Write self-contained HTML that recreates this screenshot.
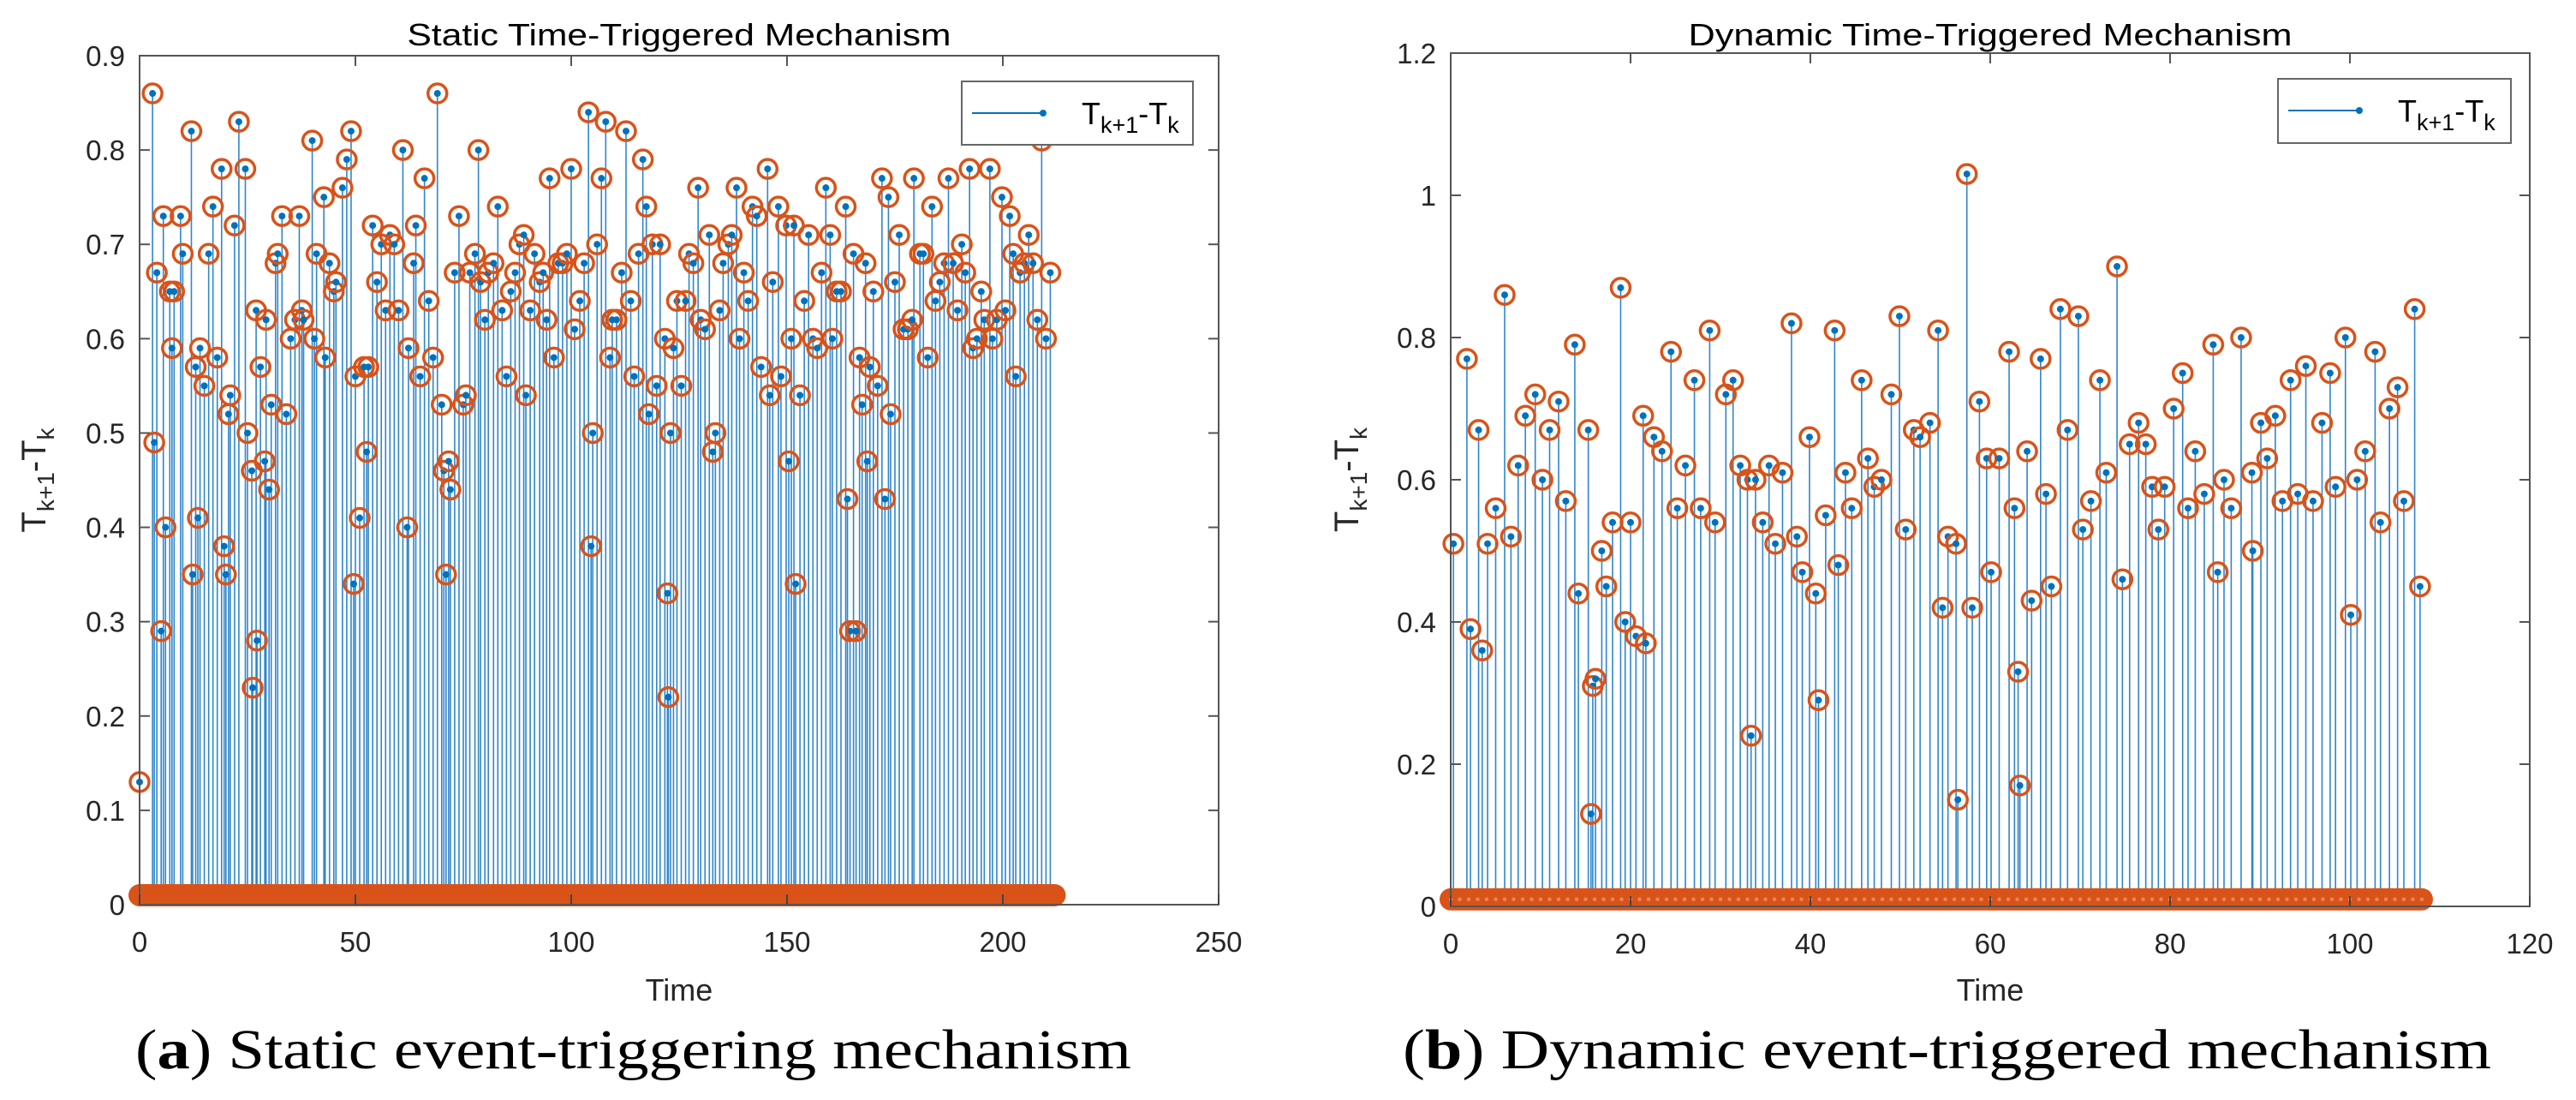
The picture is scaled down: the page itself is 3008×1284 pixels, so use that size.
<!DOCTYPE html>
<html><head><meta charset="utf-8"><style>
html,body{margin:0;padding:0;background:#fff;}
svg{display:block;}
</style></head><body>
<svg id="fig" width="3008" height="1284" viewBox="0 0 3008 1284" xmlns="http://www.w3.org/2000/svg" font-family="Liberation Sans, sans-serif">
<rect width="3008" height="1284" fill="#fff"/>
<g id="chartA"></g>
<g id="chartB"></g>
<text x="158" y="1247" font-family="Liberation Serif, serif" font-size="66" fill="#000" textLength="1163" lengthAdjust="spacingAndGlyphs">(<tspan font-weight="bold">a</tspan>) Static event-triggering mechanism</text>
<text x="1638" y="1247" font-family="Liberation Serif, serif" font-size="66" fill="#000" textLength="1271" lengthAdjust="spacingAndGlyphs">(<tspan font-weight="bold">b</tspan>) Dynamic event-triggered mechanism</text>
</svg>
<script>
// ---- Static chart data ----
const staticTimes = [0,3,3.4,4,5,5.5,6,7,7.5,8,9.5,10,12,12.3,13,13.5,14,15,16,17,18,19,19.6,20,20.6,21,22,23,24.5,25,26,26.2,27,27.2,28,29,29.3,30,30.5,31.5,32,33,34,35,36,37,37.6,38,40,40.5,41,42.7,43,44,45,45.5,47,48,49,49.6,50,51,52,52.6,53,54,55,56,57,58,59,60,61,62,62.3,63.5,64,65,66,67,68,69,70,70.5,71,71.6,72,73,74,75,75.6,76.5,77.7,78.5,79,80,80.8,82,83,84,85,86,87,88,89,89.5,90.5,91.5,92.7,93.5,94.3,95,96,97,98,99,100,100.8,102,103,104,104.6,105,106,107,108,109,109.5,110.5,111.7,112.7,113.8,114.6,115.6,116.6,117.4,118,118.8,119.8,120.6,121.7,122.3,122.5,123,123.7,124.5,125.5,126.5,127.3,128.3,129.4,130,131,132,132.8,133.4,134.4,135.2,136.4,137.2,138.3,139,140,141,142,143,144,145.5,146,146.7,148,148.6,149.8,150.4,151,151.6,152,153,154,155,156,157,158,159,160,160.5,161.5,162.5,163.6,164,164.6,165.4,166,166.8,167.4,168.2,168.6,169.2,170,171,172,172.7,173.5,174,175,176,177,178,179,179.4,180.8,181.6,182.6,183.6,184.4,185.4,186.4,187.4,188.5,189.5,190.5,191.3,192.3,193.1,194,195,195.7,197,197.6,198.6,199.8,200.6,201.6,202.4,203,204,205,206,207,208,209,210,211];
const staticValues = [0.13,0.86,0.49,0.67,0.29,0.73,0.40,0.65,0.59,0.65,0.73,0.69,0.82,0.35,0.57,0.41,0.59,0.55,0.69,0.74,0.58,0.78,0.38,0.35,0.52,0.54,0.72,0.83,0.78,0.50,0.46,0.23,0.63,0.28,0.57,0.47,0.62,0.44,0.53,0.68,0.69,0.73,0.52,0.60,0.62,0.73,0.63,0.62,0.81,0.60,0.69,0.75,0.58,0.68,0.65,0.66,0.76,0.79,0.82,0.34,0.56,0.41,0.57,0.48,0.57,0.72,0.66,0.70,0.63,0.71,0.70,0.63,0.80,0.40,0.59,0.68,0.72,0.56,0.77,0.64,0.58,0.86,0.53,0.46,0.35,0.47,0.44,0.67,0.73,0.53,0.54,0.67,0.69,0.80,0.66,0.62,0.67,0.68,0.74,0.63,0.56,0.65,0.67,0.70,0.71,0.54,0.63,0.69,0.66,0.67,0.62,0.77,0.58,0.68,0.68,0.69,0.78,0.61,0.64,0.68,0.84,0.38,0.50,0.70,0.77,0.83,0.58,0.62,0.62,0.67,0.82,0.64,0.56,0.69,0.79,0.74,0.52,0.70,0.55,0.70,0.60,0.33,0.22,0.50,0.59,0.64,0.55,0.64,0.69,0.68,0.76,0.62,0.61,0.71,0.48,0.50,0.63,0.68,0.70,0.71,0.76,0.60,0.67,0.64,0.74,0.73,0.57,0.78,0.54,0.66,0.74,0.56,0.72,0.47,0.60,0.72,0.34,0.54,0.64,0.71,0.60,0.59,0.67,0.76,0.71,0.60,0.65,0.65,0.74,0.43,0.29,0.69,0.29,0.58,0.53,0.68,0.47,0.57,0.65,0.55,0.77,0.43,0.75,0.52,0.66,0.71,0.61,0.61,0.62,0.77,0.69,0.69,0.58,0.74,0.64,0.66,0.68,0.77,0.68,0.63,0.70,0.67,0.78,0.59,0.60,0.65,0.62,0.78,0.60,0.62,0.75,0.63,0.73,0.69,0.56,0.67,0.68,0.71,0.68,0.62,0.81,0.60,0.67];
const staticBaseMax = 212;
const staticXTicks = [0,50,100,150,200,250];
const staticYTicks = [0,0.1,0.2,0.3,0.4,0.5,0.6,0.7,0.8,0.9];
// ---- Dynamic chart data ----
const dynamicTimes = [0.3,1.8,2.2,3.1,3.5,4.1,5,6,6.7,7.5,8.3,9.4,10.2,11,12,12.8,13.8,14.2,15.3,15.6,15.8,16.1,16.8,17.3,18,18.9,19.4,20,20.6,21.4,21.7,22.6,23.5,24.5,25.2,26.1,27.1,27.8,28.8,29.4,30.6,31.4,32.2,33,33.4,33.9,34.7,35.4,36.1,36.9,37.9,38.5,39.1,39.9,40.6,40.9,41.7,42.7,43.1,43.9,44.6,45.7,46.4,47.1,47.9,49,49.9,50.6,51.5,52.2,53.3,54.2,54.7,55.3,56.2,56.4,57.4,58,58.8,59.6,60.1,61,62.1,62.7,63.1,63.3,64.1,64.6,65.6,66.2,66.8,67.8,68.6,69.8,70.3,71.2,72.2,72.9,74.1,74.7,75.5,76.5,77.3,78,78.7,79.4,80.4,81.4,82,82.8,83.8,84.8,85.3,86,86.8,87.9,89.1,89.2,90.1,90.8,91.7,92.5,93.4,94.2,95.1,95.9,96.9,97.8,98.4,99.5,100.1,100.8,101.7,102.8,103.4,104.4,105.3,106,107.2,107.8];
const dynamicValues = [0.51,0.77,0.39,0.67,0.36,0.51,0.56,0.86,0.52,0.62,0.69,0.72,0.60,0.67,0.71,0.57,0.79,0.44,0.67,0.13,0.31,0.32,0.50,0.45,0.54,0.87,0.40,0.54,0.38,0.69,0.37,0.66,0.64,0.78,0.56,0.62,0.74,0.56,0.81,0.54,0.72,0.74,0.62,0.60,0.24,0.60,0.54,0.62,0.51,0.61,0.82,0.52,0.47,0.66,0.44,0.29,0.55,0.81,0.48,0.61,0.56,0.74,0.63,0.59,0.60,0.72,0.83,0.53,0.67,0.66,0.68,0.81,0.42,0.52,0.51,0.15,1.03,0.42,0.71,0.63,0.47,0.63,0.78,0.56,0.33,0.17,0.64,0.43,0.77,0.58,0.45,0.84,0.67,0.83,0.53,0.57,0.74,0.61,0.90,0.46,0.65,0.68,0.65,0.59,0.53,0.59,0.70,0.75,0.56,0.64,0.58,0.79,0.47,0.60,0.56,0.80,0.61,0.50,0.68,0.63,0.69,0.57,0.74,0.58,0.76,0.57,0.68,0.75,0.59,0.80,0.41,0.60,0.64,0.78,0.54,0.70,0.73,0.57,0.84,0.45];
const dynamicBaseMax = 108;
const dynamicXTicks = [0,20,40,60,80,100,120];
const dynamicYTicks = [0,0.2,0.4,0.6,0.8,1,1.2];

const NS = 'http://www.w3.org/2000/svg';
function mk(parent, tag, attrs){
  const e = document.createElementNS(NS, tag);
  for (const k in attrs) e.setAttribute(k, attrs[k]);
  parent.appendChild(e);
  return e;
}

function drawChart(g, cfg){
  const {left, right, top, bottom, xMax, yMax, times, values, baseMax, baseStep, xTicks, yTicks, title, titleLen, ylabX, legend, dotsInBand} = cfg;
  const X = t => left + t / xMax * (right - left);
  const Y = v => bottom - v / yMax * (bottom - top);
  const stemColor = '#2f86cc', dot = '#0072BD', ring = '#D95319';

  // stems
  const stemG = mk(g, 'g', {});
  
  
  for (let i = 0; i < times.length; i++){
    const l = mk(stemG, 'line', {x1: X(times[i]), x2: X(times[i]), y1: Y(0), y2: Y(values[i]), stroke: stemColor, 'stroke-width': 1.6});
    
    
  }
  for (let i = 0; i < times.length; i++){
    const c = mk(stemG, 'circle', {cx: X(times[i]), cy: Y(values[i]), r: 11, fill: 'none', stroke: ring, 'stroke-width': 3.5});
    
    
    const d = mk(stemG, 'circle', {cx: X(times[i]), cy: Y(values[i]), r: 4, fill: dot});
    
    
  }
  // baseline band of markers
  const baseG = mk(g, 'g', {});
  
  
  const by = Y(0.01);
  const band = mk(baseG, 'line', {x1: X(0), x2: X(baseMax), y1: by, y2: by, stroke: ring, 'stroke-width': 26, 'stroke-linecap': 'round'});
  
  
  if (dotsInBand){
    for (let t = 0; t <= baseMax + 1e-9; t += baseStep){
      const d = mk(baseG, 'circle', {cx: X(t), cy: by, r: 2.2, fill: '#e58a5c'});
      
      
    }
  }
  // axes box
  const box = mk(g, 'rect', {x: left, y: top, width: right - left, height: bottom - top, fill: 'none', stroke: '#555', 'stroke-width': 2});
  
  
  // ticks
  xTicks.forEach(t => {
    const x = X(t);
    mk(g, 'line', {x1: x, x2: x, y1: bottom, y2: bottom - 12, stroke: '#444', 'stroke-width': 2});
    mk(g, 'line', {x1: x, x2: x, y1: top, y2: top + 12, stroke: '#555', 'stroke-width': 2});
    const tx = mk(g, 'text', {x: x, y: bottom + 55, 'text-anchor': 'middle', 'font-size': 33, fill: '#262626'});
    tx.textContent = String(t);
    
    
  });
  yTicks.forEach(v => {
    const y = Y(v);
    mk(g, 'line', {x1: left, x2: left + 12, y1: y, y2: y, stroke: '#555', 'stroke-width': 2});
    mk(g, 'line', {x1: right, x2: right - 12, y1: y, y2: y, stroke: '#555', 'stroke-width': 2});
    const ty = mk(g, 'text', {x: left - 17, y: y + 12, 'text-anchor': 'end', 'font-size': 33, fill: '#262626'});
    ty.textContent = String(v);
    
    
  });
  // title
  const ti = mk(g, 'text', {x: (left + right) / 2, y: 53, 'text-anchor': 'middle', 'font-size': 36, fill: '#000', textLength: titleLen, lengthAdjust: 'spacingAndGlyphs'});
  ti.textContent = title;
  
  
  // x label
  const xl = mk(g, 'text', {x: (left + right) / 2, y: 1168, 'text-anchor': 'middle', 'font-size': 36, fill: '#262626'});
  xl.textContent = 'Time';
  
  
  // y label
  const yl = mk(g, 'text', {x: 0, y: 0, 'text-anchor': 'middle', 'font-size': 40, fill: '#262626', transform: `translate(${ylabX},${(top + bottom) / 2}) rotate(-90)`});
  
  
  yl.innerHTML = 'T<tspan font-size="28" dy="10">k+1</tspan><tspan dy="-10">-T</tspan><tspan font-size="28" dy="10">k</tspan>';
  // legend
  const lg = mk(g, 'g', {});
  
  
  mk(lg, 'rect', {x: legend.x, y: legend.y, width: legend.w, height: legend.h, fill: '#fff', stroke: '#666', 'stroke-width': 2});
  mk(lg, 'line', {x1: legend.x + 12, x2: legend.x + 95, y1: legend.y + 37, y2: legend.y + 37, stroke: dot, 'stroke-width': 2});
  mk(lg, 'circle', {cx: legend.x + 95, cy: legend.y + 37, r: 4, fill: dot});
  const lt = mk(lg, 'text', {x: legend.x + 140, y: legend.y + 50, 'font-size': 36, fill: '#000'});
  
  
  lt.innerHTML = 'T<tspan font-size="27" dy="10">k+1</tspan><tspan dy="-10">-T</tspan><tspan font-size="27" dy="10">k</tspan>';
}

drawChart(document.getElementById('chartA'), {
  left: 163, right: 1423, top: 65, bottom: 1056, xMax: 250, yMax: 0.9,
  times: staticTimes, values: staticValues, baseMax: staticBaseMax, baseStep: 1,
  xTicks: staticXTicks, yTicks: staticYTicks, title: 'Static Time-Triggered Mechanism', titleLen: 635,
  ylabX: 53, legend: {x: 1123, y: 95, w: 270, h: 74}, dotsInBand: false
});
drawChart(document.getElementById('chartB'), {
  left: 1694, right: 2954, top: 62, bottom: 1058, xMax: 120, yMax: 1.2,
  times: dynamicTimes, values: dynamicValues, baseMax: dynamicBaseMax, baseStep: 1,
  xTicks: dynamicXTicks, yTicks: dynamicYTicks, title: 'Dynamic Time-Triggered Mechanism', titleLen: 705,
  ylabX: 1586, legend: {x: 2660, y: 92, w: 272, h: 75}, dotsInBand: true
});
</script>
</body></html>
